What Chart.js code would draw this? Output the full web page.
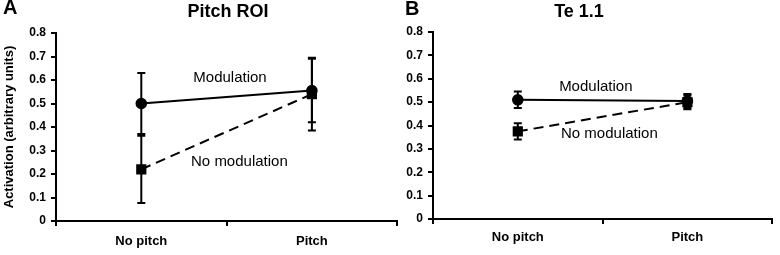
<!DOCTYPE html>
<html lang="en">
<head>
  <meta charset="UTF-8">
  <title>Pitch ROI / Te 1.1</title>
  <style>
    body {
      margin: 0;
      padding: 0;
      background: #fff;
      width: 780px;
      height: 255px;
      overflow: hidden;
      position: relative;
    }
    canvas {
      position: absolute;
      top: 0;
    }
    #chartA { left: 0; }
    #chartB { left: 390px; }
  </style>
</head>
<body>
  <canvas id="chartA" width="405" height="255"></canvas>
  <canvas id="chartB" width="390" height="255"></canvas>

  <script src="https://cdn.jsdelivr.net/npm/chart.js"></script>
  <script>
    // values
    var categories = ['No pitch', 'Pitch'];

    var pitchRoiModulation = [0.50, 0.555];
    var pitchRoiModulationErr = [0.13, 0.135];
    var pitchRoiNoModulation = [0.22, 0.54];
    var pitchRoiNoModulationErr = [0.143, 0.155];

    var te11Modulation = [0.51, 0.505];
    var te11ModulationErr = [0.035, 0.03];
    var te11NoModulation = [0.375, 0.50];
    var te11NoModulationErr = [0.035, 0.03];

    var FONT = 'Arial, "Liberation Sans", Helvetica, sans-serif';

    // error bars, drawn under the markers
    var errorBars = {
      id: 'errorBars',
      beforeDatasetsDraw: function (chart) {
        var ctx = chart.ctx;
        var xs = chart.scales.x, ys = chart.scales.y;
        ctx.save();
        ctx.strokeStyle = '#000';
        ctx.lineWidth = 2;
        chart.data.datasets.forEach(function (ds) {
          if (!ds.errors) return;
          ds.data.forEach(function (v, i) {
            var x = xs.getPixelForValue(i);
            var top = ys.getPixelForValue(v + ds.errors[i]);
            var bot = ys.getPixelForValue(v - ds.errors[i]);
            ctx.beginPath();
            ctx.moveTo(x, top); ctx.lineTo(x, bot);
            ctx.moveTo(x - 4, top); ctx.lineTo(x + 4, top);
            ctx.moveTo(x - 4, bot); ctx.lineTo(x + 4, bot);
            ctx.stroke();
          });
        });
        ctx.restore();
      }
    };

    // panel letter, title and the in-plot labels
    var panelText = {
      id: 'panelText',
      afterDraw: function (chart, args, opts) {
        var ctx = chart.ctx;
        ctx.save();
        ctx.fillStyle = '#000';
        ctx.textBaseline = 'middle';
        ctx.font = 'bold 20px ' + FONT;
        ctx.textAlign = 'left';
        ctx.fillText(opts.letter, opts.letterX, opts.letterY);
        ctx.font = 'bold 18px ' + FONT;
        ctx.textAlign = 'center';
        ctx.fillText(opts.title, opts.titleX, 12);
        ctx.font = '15px ' + FONT;
        opts.notes.forEach(function (n) {
          ctx.fillText(n.text, chart.scales.x.getPixelForValue(n.at), chart.scales.y.getPixelForValue(n.value));
        });
        ctx.restore();
      }
    };

    function makePanel(id, mod, modErr, noMod, noModErr, p) {
      var ctx = document.getElementById(id).getContext('2d');
      return new Chart(ctx, {
        type: 'line',
        data: {
          labels: categories,
          datasets: [{
            label: 'Modulation',
            data: mod,
            errors: modErr,
            borderColor: '#000',
            borderWidth: 2,
            pointStyle: 'circle',
            pointRadius: 4.8,
            pointBackgroundColor: '#000',
            pointBorderColor: '#000',
            tension: 0,
            fill: false
          }, {
            label: 'No modulation',
            data: noMod,
            errors: noModErr,
            borderColor: '#000',
            borderWidth: 2,
            borderDash: [10, 6],
            pointStyle: 'rect',
            pointRadius: 5.8,
            pointBackgroundColor: '#000',
            pointBorderColor: '#000',
            tension: 0,
            fill: false
          }]
        },
        options: {
          responsive: false,
          animation: false,
          events: [],
          layout: { padding: { top: p.top, right: p.right, bottom: 0, left: 0 } },
          scales: {
            x: {
              type: 'category',
              offset: true,
              grid: { offset: true, drawOnChartArea: false, tickLength: 5, color: '#000', lineWidth: 2 },
              border: { color: '#000', width: 2 },
              ticks: { color: '#000', padding: p.xPad, font: { family: FONT, size: 13, weight: 'bold' } },
              afterFit: function (s) { s.height = p.xHeight; }
            },
            y: {
              min: 0,
              max: 0.8,
              ticks: {
                stepSize: 0.1,
                color: '#000',
                padding: 5,
                font: { family: FONT, size: 12, weight: 'bold' },
                callback: function (v) { return v === 0 ? '0' : v.toFixed(1); }
              },
              grid: { drawOnChartArea: false, tickLength: 5, color: '#000', lineWidth: 2 },
              border: { color: '#000', width: 2 },
              title: {
                display: !!p.yTitle,
                text: p.yTitle || '',
                color: '#000',
                padding: { top: 2, bottom: 0 },
                font: { family: FONT, size: 13, weight: 'bold' }
              },
              afterFit: function (s) { s.width = p.yWidth; }
            }
          },
          plugins: {
            legend: { display: false },
            tooltip: { enabled: false },
            panelText: p.text
          }
        },
        plugins: [errorBars, panelText]
      });
    }

    makePanel('chartA', pitchRoiModulation, pitchRoiModulationErr, pitchRoiNoModulation, pitchRoiNoModulationErr, {
      top: 33, right: 2, yWidth: 56, xHeight: 34, xPad: 8,
      yTitle: 'Activation (arbitrary units)',
      text: {
        letter: 'A', letterX: 3, letterY: 8,
        title: 'Pitch ROI', titleX: 228,
        notes: [
          { text: 'Modulation', at: 0.52, value: 0.608 },
          { text: 'No modulation', at: 0.575, value: 0.25 }
        ]
      }
    });

    makePanel('chartB', te11Modulation, te11ModulationErr, te11NoModulation, te11NoModulationErr, {
      top: 32, right: 2, yWidth: 43, xHeight: 36, xPad: 6,
      yTitle: '',
      text: {
        letter: 'B', letterX: 15, letterY: 9,
        title: 'Te 1.1', titleX: 189,
        notes: [
          { text: 'Modulation', at: 0.46, value: 0.564 },
          { text: 'No modulation', at: 0.54, value: 0.363 }
        ]
      }
    });
  </script>
</body>
</html>
